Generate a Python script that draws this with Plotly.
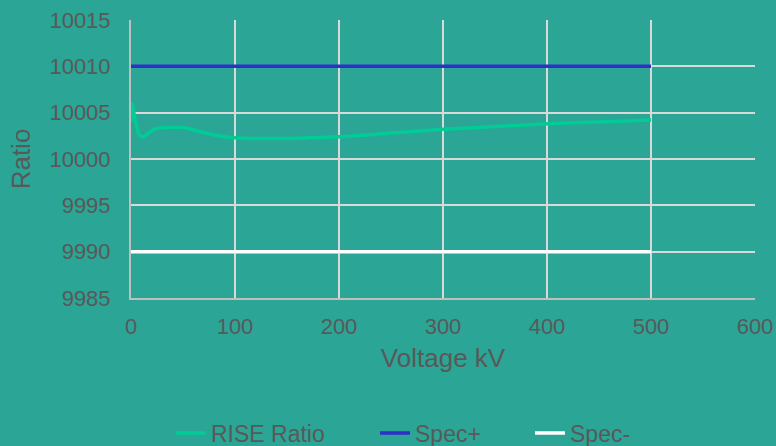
import plotly.graph_objects as go

# Measured ratio versus applied voltage
voltage_kv = [0, 1, 4, 8, 12, 18, 25, 35, 50, 65, 80, 100, 130, 160, 200, 250, 300, 350, 400, 450, 500]
rise_ratio = [10004.0, 10006.0, 10004.2, 10002.6, 10002.4, 10002.9, 10003.3, 10003.4, 10003.4, 10003.0,
              10002.6, 10002.3, 10002.2, 10002.25, 10002.4, 10002.8, 10003.2, 10003.5, 10003.8, 10004.0, 10004.2]

# Specification limits
spec_x = [0, 500]
spec_plus = [10010, 10010]
spec_minus = [9990, 9990]

bg = "#2BA595"
txt = "#595959"
grid = "#D9D9D9"

fig = go.Figure()
fig.add_trace(go.Scatter(x=voltage_kv, y=rise_ratio, mode="lines", name="RISE Ratio", legend="legend",
                         line=dict(color="#00CC96", width=3.5, shape="spline", smoothing=0.8)))
fig.add_trace(go.Scatter(x=spec_x, y=spec_plus, mode="lines", name="Spec+", legend="legend2",
                         line=dict(color="#3030C8", width=3.5)))
fig.add_trace(go.Scatter(x=spec_x, y=spec_minus, mode="lines", name="Spec-", legend="legend3",
                         line=dict(color="#FFFFFF", width=3.5)))

plot_left, plot_w = 131, 624


def legend_at(px_left):
    return dict(orientation="h", x=(px_left - plot_left) / plot_w, xanchor="left",
                y=-0.4856, yanchor="middle", font=dict(size=23, color=txt),
                bgcolor="rgba(0,0,0,0)")


fig.update_layout(
    width=776, height=446,
    paper_bgcolor=bg, plot_bgcolor=bg,
    margin=dict(l=131, r=21, t=20, b=148, autoexpand=False),
    font=dict(family="Liberation Sans, Arial, sans-serif", color=txt, size=22),
    showlegend=True,
    legend=legend_at(171),
    legend2=legend_at(375),
    legend3=legend_at(530),
)
fig.update_xaxes(range=[0, 600], dtick=100, tickformat="d", showgrid=True, gridcolor=grid, gridwidth=2,
                 showline=True, linecolor="#BFBFBF", linewidth=2, zeroline=False,
                 ticks="", tickfont=dict(size=22, color=txt), ticklabelstandoff=8,
                 title=dict(text="Voltage kV", font=dict(size=26, color=txt), standoff=10))
fig.update_yaxes(range=[9985, 10015], dtick=5, tickformat="d", showgrid=True, gridcolor=grid, gridwidth=2,
                 showline=True, linecolor="#BFBFBF", linewidth=2, zeroline=False,
                 ticks="", tickfont=dict(size=22, color=txt), ticklabelstandoff=14,
                 title=dict(text="Ratio", font=dict(size=26, color=txt), standoff=11))

fig.write_html("out.html")
